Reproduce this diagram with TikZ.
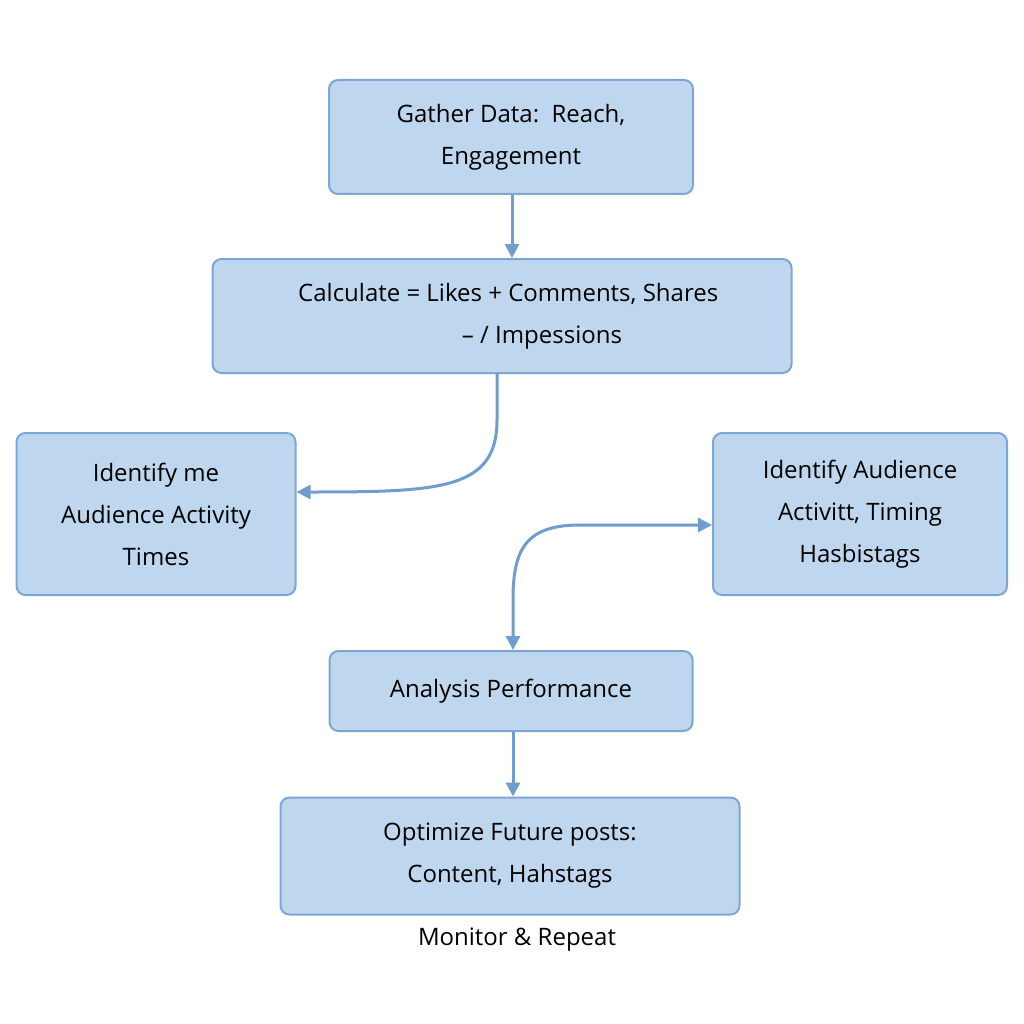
\documentclass[tikz,border=0pt]{standalone}
\usepackage{fontspec}
\setmainfont{Open Sans}
\usetikzlibrary{arrows.meta}
\definecolor{boxfill}{HTML}{BFD7EE}
\definecolor{boxline}{HTML}{7EA6D3}
\definecolor{arr}{HTML}{6F9DD0}
\begin{document}
\begin{tikzpicture}[x=1pt,y=-1pt,
  box/.style={draw=boxline,fill=boxfill,line width=2pt,rounded corners=9pt,align=center,inner sep=0pt,font=\fontsize{24}{42}\selectfont},
  con/.style={draw=arr,line width=3pt,-{Triangle[length=14pt,width=14pt]}}]
\useasboundingbox[fill=white] (0,0) rectangle (1024,1024);
\node[box,minimum width=364pt,minimum height=114pt] (a) at (511,137) {Gather Data:\ \ Reach,\\Engagement};
\node[box,minimum width=579pt,minimum height=114pt] (b) at (502,316) {\ \ Calculate = Likes + Comments, Shares\\\hspace*{80pt}-- / Impessions};
\node[box,minimum width=279pt,minimum height=162pt] (c) at (156,514) {Identify me\\Audience Activity\\Times};
\node[box,minimum width=294pt,minimum height=162pt] (d) at (860,514) {Identify Audience\\Activitt, Timing\\Hasbistags};
\node[box,minimum width=363pt,minimum height=80pt] (e) at (511,691) {Analysis Performance};
\node[box,minimum width=459pt,minimum height=117pt] (f) at (510,856) {Optimize Future posts:\\Content, Hahstags};
\node[font=\fontsize{24}{30}\selectfont] (g) at (517,940) {Monitor \& Repeat};
\draw[con] (a.south -| 512,0) -- (b.north -| 512,0);
\coordinate (c1) at (497,373);
\draw[con] (c1) -- (497,420) .. controls (497,490) and (440,492) .. (c.east |- 0,492);
\draw[con,{Triangle[length=14pt,width=14pt]}-{Triangle[length=14pt,width=14pt]}] (d.west |- 0,525) -- (580,525) .. controls (525,525) and (513,550) .. (513,600) -- (e.north -| 513,0);
\draw[con] (e.south -| 513,0) -- (f.north -| 513,0);
\end{tikzpicture}
\end{document}
